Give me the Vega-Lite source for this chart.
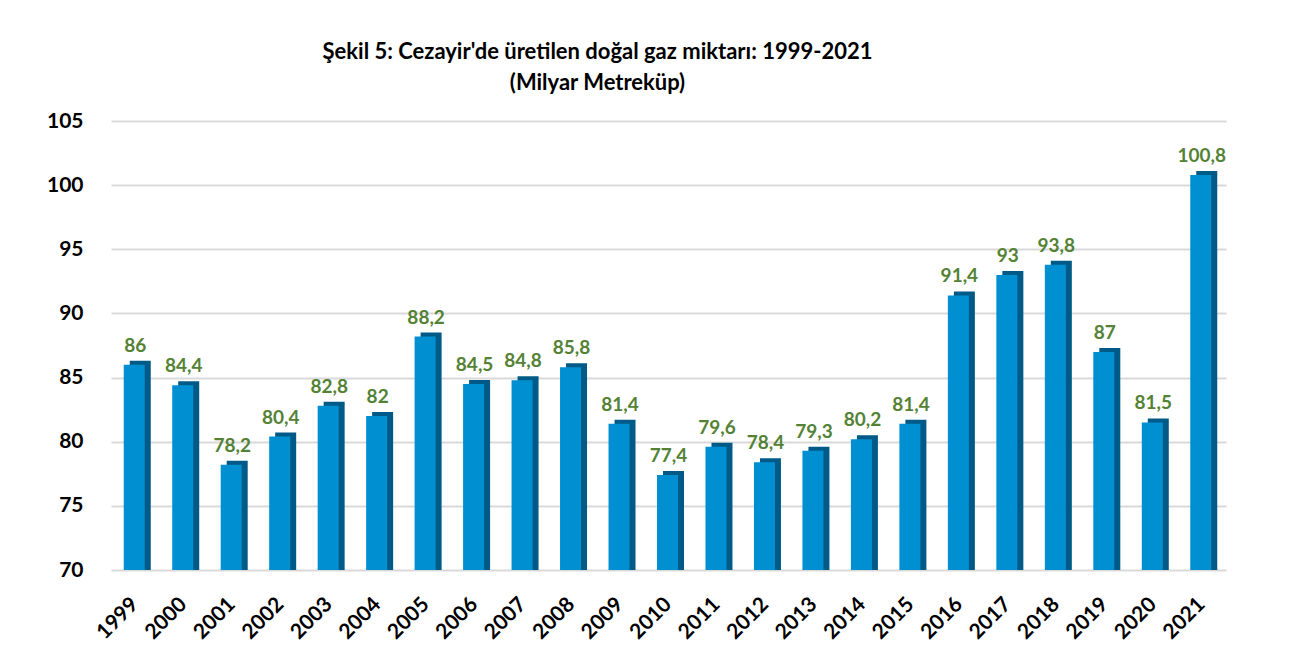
{
  "$schema": "https://vega.github.io/schema/vega-lite/v6.json",
  "autosize": {"type": "none"},
  "padding": {"left": 111, "top": 121, "right": 72, "bottom": 96},
  "width": 1115,
  "height": 449,
  "background": "white",
  "title": {
    "text": ["Şekil 5: Cezayir'de üretilen doğal gaz miktarı: 1999-2021", "(Milyar Metreküp)"],
    "font": "Lato",
    "fontSize": 22,
    "fontWeight": "bold",
    "color": "#000000",
    "anchor": "middle",
    "dx": -71,
    "offset": 15,
    "lineHeight": 31
  },
  "data": {
    "values": [
      {"year": "1999", "value": 86, "label": "86"},
      {"year": "2000", "value": 84.4, "label": "84,4"},
      {"year": "2001", "value": 78.2, "label": "78,2"},
      {"year": "2002", "value": 80.4, "label": "80,4"},
      {"year": "2003", "value": 82.8, "label": "82,8"},
      {"year": "2004", "value": 82, "label": "82"},
      {"year": "2005", "value": 88.2, "label": "88,2"},
      {"year": "2006", "value": 84.5, "label": "84,5"},
      {"year": "2007", "value": 84.8, "label": "84,8"},
      {"year": "2008", "value": 85.8, "label": "85,8"},
      {"year": "2009", "value": 81.4, "label": "81,4"},
      {"year": "2010", "value": 77.4, "label": "77,4"},
      {"year": "2011", "value": 79.6, "label": "79,6"},
      {"year": "2012", "value": 78.4, "label": "78,4"},
      {"year": "2013", "value": 79.3, "label": "79,3"},
      {"year": "2014", "value": 80.2, "label": "80,2"},
      {"year": "2015", "value": 81.4, "label": "81,4"},
      {"year": "2016", "value": 91.4, "label": "91,4"},
      {"year": "2017", "value": 93, "label": "93"},
      {"year": "2018", "value": 93.8, "label": "93,8"},
      {"year": "2019", "value": 87, "label": "87"},
      {"year": "2020", "value": 81.5, "label": "81,5"},
      {"year": "2021", "value": 100.8, "label": "100,8"}
    ]
  },
  "encoding": {
    "x": {
      "field": "year",
      "type": "ordinal",
      "title": null,
      "scale": {"paddingInner": 0.5, "paddingOuter": 0.25},
      "axis": {
        "labelAngle": -45,
        "labelAlign": "right",
        "labelBaseline": "middle",
        "labelFont": "Lato",
        "labelFontSize": 21,
        "labelFontWeight": "bold",
        "labelColor": "#000000",
        "ticks": false,
        "domain": false,
        "labelPadding": 31
      }
    },
    "y": {
      "field": "value",
      "type": "quantitative",
      "title": null,
      "scale": {"domain": [70, 105], "nice": false, "zero": false},
      "axis": {
        "values": [70, 75, 80, 85, 90, 95, 100, 105],
        "labelFont": "Lato",
        "labelFontSize": 21,
        "labelFontWeight": "bold",
        "labelColor": "#000000",
        "ticks": false,
        "domain": false,
        "labelPadding": 28,
        "gridColor": "#d9d9d9",
        "gridWidth": 2
      }
    }
  },
  "layer": [
    {
      "mark": {"type": "bar", "color": "#005a87", "width": 21, "xOffset": 5, "yOffset": -4},
      "encoding": {"y2": {"datum": 70}}
    },
    {
      "mark": {"type": "bar", "color": "#0090d2", "width": 21, "xOffset": -1},
      "encoding": {"y2": {"datum": 70}}
    },
    {
      "mark": {"type": "text", "baseline": "alphabetic", "dy": -13, "dx": 0, "font": "Lato", "fontSize": 19, "fontWeight": "bold", "color": "#548235"},
      "encoding": {"text": {"field": "label"}}
    }
  ],
  "config": {"view": {"stroke": null}}
}
